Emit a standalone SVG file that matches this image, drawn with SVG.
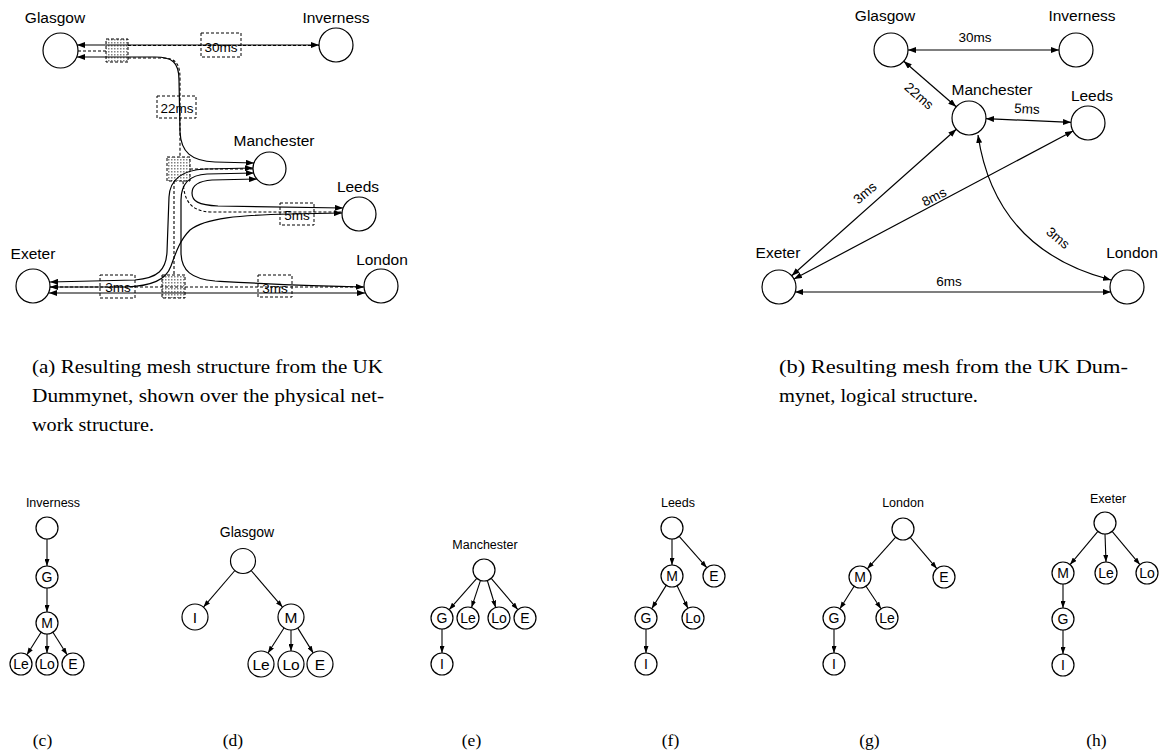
<svg xmlns="http://www.w3.org/2000/svg" width="1167" height="753" viewBox="0 0 1167 753">
  <style>
    .nd { fill: #fff; stroke: #000; stroke-width: 1.2; }
    .t { font-family: "Liberation Sans", Arial, Helvetica, sans-serif; fill: #000; text-anchor: middle; }
    .lbl { font-size: 15.5px; }
    .ms { font-size: 13.5px; }
    .tt { font-size: 12.5px; }
    .tn { font-size: 14px; }
    .tn2 { font-size: 15.5px; }
    .e { fill: none; stroke: #000; stroke-width: 1.2; }
    .ea { marker-start: url(#ah); marker-end: url(#ah); }
    .phy { fill: none; stroke: #000; stroke-width: 1.1; stroke-dasharray: 3 2; }
    .box { fill: none; stroke: #000; stroke-width: 1; stroke-dasharray: 3 2; }
    .rt { fill: url(#dots); stroke: #000; stroke-width: 1; stroke-dasharray: 3 2; }
    .te { fill: none; stroke: #000; stroke-width: 1.1; marker-end: url(#ahs); }
    .cap { font-family: "Liberation Serif", "Times New Roman", serif; font-size: 18px; fill: #000; }
    .sub { font-family: "Liberation Serif", "Times New Roman", serif; font-size: 17.5px; fill: #000; text-anchor: middle; }
  </style>
  <defs>
    <marker id="ah" viewBox="0 0 8 6" refX="8" refY="3" markerWidth="8" markerHeight="6" markerUnits="userSpaceOnUse" orient="auto-start-reverse">
      <path d="M0,0 L8,3 L0,6 z" fill="#000"/>
    </marker>
    <marker id="ahs" viewBox="0 0 7 5" refX="7" refY="2.5" markerWidth="7" markerHeight="5" markerUnits="userSpaceOnUse" orient="auto">
      <path d="M0,0 L7,2.5 L0,5 z" fill="#000"/>
    </marker>
    <pattern id="dots" width="3" height="3" patternUnits="userSpaceOnUse">
      <rect width="3" height="3" fill="#fff"/>
      <rect width="1.5" height="1.5" fill="#808080"/>
    </pattern>
  </defs>

  <!-- ===== (a) mesh over the physical network ===== -->
  <g id="a-boxes">
    <rect class="rt" x="106" y="39" width="22" height="23"/>
    <rect class="rt" x="167" y="157" width="23" height="24"/>
    <rect class="rt" x="162" y="275" width="23" height="23"/>
    <rect class="box" x="201" y="33" width="40" height="24"/>
    <rect class="box" x="157" y="96" width="39" height="22"/>
    <rect class="box" x="280" y="203" width="34" height="22"/>
    <rect class="box" x="100" y="275" width="35" height="23"/>
    <rect class="box" x="258" y="275" width="34" height="22"/>
  </g>
  <g id="a-physical">
    <path class="phy" d="M78,51 L106,51"/>
    <path class="phy" d="M128,45.5 L319,45.5"/>
    <path class="phy" d="M128,58 L162,58 C175,58 180,63 180,78 L180,157"/>
    <path class="phy" d="M190,169 L253,169"/>
    <path class="phy" d="M183,181 C184,200 190,211 210,212 L342,212"/>
    <path class="phy" d="M174,181 L174,275"/>
    <path class="phy" d="M50,287 L364,287"/>
  </g>
  <g id="a-connectors">
    <path class="e ea" d="M77,45 L319,45"/>
    <path class="e ea" d="M77,57 L155,57 C172,57 179,62 179,80 L180,132 C181,152 191,161 215,162 L254,163"/>
    <path class="e ea" d="M253,168 L205,169 C183,170 170,178 169,197 L167,252 C166,270 158,278 135,280 L50,282"/>
    <path class="e ea" d="M254,173 L207,174 C189,175 181,184 181,200 L181,252 C181,271 192,279 215,281 C250,283 300,286 364,287"/>
    <path class="e ea" d="M257,179 L212,180 C198,181 192,186 192,193 C192,201 198,205 218,206 L343,208"/>
    <path class="e ea" d="M342,213 L290,214 C240,215 205,218 190,230 C180,240 176,252 171,266 C166,280 152,286 125,287 L50,287"/>
    <path class="e ea" d="M49,293 L365,293"/>
  </g>
  <g id="a-latency" class="t ms">
    <text x="221" y="51.5">30ms</text>
    <text x="177" y="113">22ms</text>
    <text x="297" y="220">5ms</text>
    <text x="118" y="292">3ms</text>
    <text x="275" y="293">3ms</text>
  </g>
  <g id="a-glasgow"><circle class="nd" cx="60.5" cy="50.5" r="17.5"/><text class="t lbl" x="55" y="23">Glasgow</text></g>
  <g id="a-inverness"><circle class="nd" cx="336" cy="45" r="17"/><text class="t lbl" x="336" y="23">Inverness</text></g>
  <g id="a-manchester"><circle class="nd" cx="269.5" cy="168.5" r="16.5"/><text class="t lbl" x="274" y="146">Manchester</text></g>
  <g id="a-leeds"><circle class="nd" cx="359" cy="214" r="17"/><text class="t lbl" x="358" y="192">Leeds</text></g>
  <g id="a-exeter"><circle class="nd" cx="33" cy="286" r="17"/><text class="t lbl" x="33" y="259">Exeter</text></g>
  <g id="a-london"><circle class="nd" cx="381" cy="286" r="17"/><text class="t lbl" x="382" y="265">London</text></g>

  <!-- ===== (b) logical mesh ===== -->
  <g id="b-connectors">
    <path class="e ea" d="M908,50 L1059,50"/>
    <path class="e ea" d="M903.8,61.2 L956.2,106.8"/>
    <path class="e ea" d="M986,118.7 L1071,122.3"/>
    <path class="e ea" d="M956.3,129.3 L791.7,275.7"/>
    <path class="e ea" d="M1073,131 L794,279"/>
    <path class="e ea" d="M978,135 Q995,250 1111,280"/>
    <path class="e ea" d="M795,292 L1111,292"/>
  </g>
  <g id="b-latency" class="t ms">
    <text x="975" y="42">30ms</text>
    <text transform="translate(919,96) rotate(41)" y="4.5">22ms</text>
    <text transform="translate(1027,109) rotate(3)" y="4.5">5ms</text>
    <text transform="translate(865,193) rotate(-41)" y="4.5">3ms</text>
    <text transform="translate(934,197) rotate(-27)" y="4.5">8ms</text>
    <text transform="translate(1058,238) rotate(40)" y="4.5">3ms</text>
    <text x="949" y="286">6ms</text>
  </g>
  <g id="b-glasgow"><circle class="nd" cx="891" cy="50" r="17"/><text class="t lbl" x="885" y="21">Glasgow</text></g>
  <g id="b-inverness"><circle class="nd" cx="1076" cy="50" r="17"/><text class="t lbl" x="1082" y="21">Inverness</text></g>
  <g id="b-manchester"><circle class="nd" cx="969" cy="118" r="17"/><text class="t lbl" x="992" y="95">Manchester</text></g>
  <g id="b-leeds"><circle class="nd" cx="1088" cy="123" r="17"/><text class="t lbl" x="1092" y="101">Leeds</text></g>
  <g id="b-exeter"><circle class="nd" cx="779" cy="287" r="17"/><text class="t lbl" x="778" y="258">Exeter</text></g>
  <g id="b-london"><circle class="nd" cx="1127" cy="287" r="17"/><text class="t lbl" x="1132" y="258">London</text></g>

  <!-- ===== captions (a), (b) ===== -->
  <g id="cap-a" class="cap">
    <text x="32" y="373" textLength="351" lengthAdjust="spacingAndGlyphs">(a) Resulting mesh structure from the UK</text>
    <text x="32" y="402" textLength="352" lengthAdjust="spacingAndGlyphs">Dummynet, shown over the physical net-</text>
    <text x="32" y="431" textLength="122" lengthAdjust="spacingAndGlyphs">work structure.</text>
  </g>
  <g id="cap-b" class="cap">
    <text x="779" y="373" textLength="349" lengthAdjust="spacingAndGlyphs">(b) Resulting mesh from the UK Dum-</text>
    <text x="779" y="402" textLength="199" lengthAdjust="spacingAndGlyphs">mynet, logical structure.</text>
  </g>

  <!-- ===== (c) Inverness tree ===== -->
  <g id="tree-c">
    <text class="t tt" x="53" y="507">Inverness</text>
    <g class="tree-edges">
      <path class="te" d="M47,539 L47,566"/>
      <path class="te" d="M47,588 L47,612"/>
      <path class="te" d="M41.1,632.3 L26.9,654.7"/>
      <path class="te" d="M47,634 L47,653"/>
      <path class="te" d="M52.9,632.3 L67.1,654.7"/>
    </g>
    <g id="c-root"><circle class="nd" cx="47" cy="528" r="11"/></g>
    <g id="c-g"><circle class="nd" cx="47" cy="577" r="11"/><text class="t tn" x="47" y="582">G</text></g>
    <g id="c-m"><circle class="nd" cx="47" cy="623" r="11"/><text class="t tn" x="47" y="628">M</text></g>
    <g id="c-le"><circle class="nd" cx="21" cy="664" r="11"/><text class="t tn" x="21" y="669">Le</text></g>
    <g id="c-lo"><circle class="nd" cx="47" cy="664" r="11"/><text class="t tn" x="47" y="669">Lo</text></g>
    <g id="c-e"><circle class="nd" cx="73" cy="664" r="11"/><text class="t tn" x="73" y="669">E</text></g>
  </g>

  <!-- ===== (d) Glasgow tree ===== -->
  <g id="tree-d">
    <text class="t" style="font-size:14px" x="247" y="537">Glasgow</text>
    <g class="tree-edges">
      <path class="te" d="M234.9,570.5 L203.5,607.1"/>
      <path class="te" d="M251.1,570.5 L282.5,607.1"/>
      <path class="te" d="M284,628 L268,653"/>
      <path class="te" d="M291,630 L291,651"/>
      <path class="te" d="M297.8,628.1 L313.2,652.9"/>
    </g>
    <g id="d-root"><circle class="nd" cx="243" cy="561" r="12.5"/></g>
    <g id="d-i"><circle class="nd" cx="195" cy="617" r="13"/><text class="t tn2" x="195" y="622.5">I</text></g>
    <g id="d-m"><circle class="nd" cx="291" cy="617" r="13"/><text class="t tn2" x="291" y="622.5">M</text></g>
    <g id="d-le"><circle class="nd" cx="261" cy="664" r="13"/><text class="t tn2" x="261" y="669.5">Le</text></g>
    <g id="d-lo"><circle class="nd" cx="291" cy="664" r="13"/><text class="t tn2" x="291" y="669.5">Lo</text></g>
    <g id="d-e"><circle class="nd" cx="320" cy="664" r="13"/><text class="t tn2" x="320" y="669.5">E</text></g>
  </g>

  <!-- ===== (e) Manchester tree ===== -->
  <g id="tree-e">
    <text class="t tt" x="485" y="549">Manchester</text>
    <g class="tree-edges">
      <path class="te" d="M476.8,578.3 L449.2,609.7"/>
      <path class="te" d="M480.5,580.4 L471.5,607.6"/>
      <path class="te" d="M487.3,580.5 L495.7,607.5"/>
      <path class="te" d="M491.2,578.4 L517.8,609.6"/>
      <path class="te" d="M442,629 L442,653"/>
    </g>
    <g id="e-root"><circle class="nd" cx="484" cy="570" r="11"/></g>
    <g id="e-g"><circle class="nd" cx="442" cy="618" r="11"/><text class="t tn" x="442" y="623">G</text></g>
    <g id="e-le"><circle class="nd" cx="468" cy="618" r="11"/><text class="t tn" x="468" y="623">Le</text></g>
    <g id="e-lo"><circle class="nd" cx="499" cy="618" r="11"/><text class="t tn" x="499" y="623">Lo</text></g>
    <g id="e-e"><circle class="nd" cx="525" cy="618" r="11"/><text class="t tn" x="525" y="623">E</text></g>
    <g id="e-i"><circle class="nd" cx="442" cy="664" r="11"/><text class="t tn" x="442" y="669">I</text></g>
  </g>

  <!-- ===== (f) Leeds tree ===== -->
  <g id="tree-f">
    <text class="t tt" x="678" y="507">Leeds</text>
    <g class="tree-edges">
      <path class="te" d="M672,539 L672,565"/>
      <path class="te" d="M679.2,536.3 L706.8,567.7"/>
      <path class="te" d="M666.2,585.4 L651.8,608.6"/>
      <path class="te" d="M677.1,585.7 L687.9,608.3"/>
      <path class="te" d="M646,629 L646,653"/>
    </g>
    <g id="f-root"><circle class="nd" cx="672" cy="528" r="11"/></g>
    <g id="f-m"><circle class="nd" cx="672" cy="576" r="11"/><text class="t tn" x="672" y="581">M</text></g>
    <g id="f-e"><circle class="nd" cx="714" cy="576" r="11"/><text class="t tn" x="714" y="581">E</text></g>
    <g id="f-g"><circle class="nd" cx="646" cy="618" r="11"/><text class="t tn" x="646" y="623">G</text></g>
    <g id="f-lo"><circle class="nd" cx="693" cy="618" r="11"/><text class="t tn" x="693" y="623">Lo</text></g>
    <g id="f-i"><circle class="nd" cx="646" cy="664" r="11"/><text class="t tn" x="646" y="669">I</text></g>
  </g>

  <!-- ===== (g) London tree ===== -->
  <g id="tree-g">
    <text class="t tt" x="903" y="507">London</text>
    <g class="tree-edges">
      <path class="te" d="M895.7,537.2 L867.3,568.8"/>
      <path class="te" d="M910.2,537.4 L936.8,568.6"/>
      <path class="te" d="M854.1,586.3 L839.9,608.7"/>
      <path class="te" d="M866,586.2 L881,608.8"/>
      <path class="te" d="M834,629 L834,653"/>
    </g>
    <g id="g-root"><circle class="nd" cx="903" cy="529" r="11"/></g>
    <g id="g-m"><circle class="nd" cx="860" cy="577" r="11"/><text class="t tn" x="860" y="582">M</text></g>
    <g id="g-e"><circle class="nd" cx="944" cy="577" r="11"/><text class="t tn" x="944" y="582">E</text></g>
    <g id="g-g"><circle class="nd" cx="834" cy="618" r="11"/><text class="t tn" x="834" y="623">G</text></g>
    <g id="g-le"><circle class="nd" cx="887" cy="618" r="11"/><text class="t tn" x="887" y="623">Le</text></g>
    <g id="g-i"><circle class="nd" cx="834" cy="664" r="11"/><text class="t tn" x="834" y="669">I</text></g>
  </g>

  <!-- ===== (h) Exeter tree ===== -->
  <g id="tree-h">
    <text class="t tt" x="1108" y="503">Exeter</text>
    <g class="tree-edges">
      <path class="te" d="M1097.9,531.4 L1070.1,564.6"/>
      <path class="te" d="M1105,534 L1106,562"/>
      <path class="te" d="M1112.1,531.4 L1139.9,564.6"/>
      <path class="te" d="M1063,584 L1063,608"/>
      <path class="te" d="M1063,630 L1063,654"/>
    </g>
    <g id="h-root"><circle class="nd" cx="1105" cy="523" r="11"/></g>
    <g id="h-m"><circle class="nd" cx="1063" cy="573" r="11"/><text class="t tn" x="1063" y="578">M</text></g>
    <g id="h-le"><circle class="nd" cx="1106" cy="573" r="11"/><text class="t tn" x="1106" y="578">Le</text></g>
    <g id="h-lo"><circle class="nd" cx="1147" cy="573" r="11"/><text class="t tn" x="1147" y="578">Lo</text></g>
    <g id="h-g"><circle class="nd" cx="1063" cy="619" r="11"/><text class="t tn" x="1063" y="624">G</text></g>
    <g id="h-i"><circle class="nd" cx="1063" cy="665" r="11"/><text class="t tn" x="1063" y="670">I</text></g>
  </g>

  <!-- ===== sub-figure letters ===== -->
  <g id="sub-labels" class="sub">
    <text x="42.5" y="746">(c)</text>
    <text x="233" y="746">(d)</text>
    <text x="471.5" y="746">(e)</text>
    <text x="670.5" y="746">(f)</text>
    <text x="869.5" y="746">(g)</text>
    <text x="1096.5" y="746">(h)</text>
  </g>
</svg>
